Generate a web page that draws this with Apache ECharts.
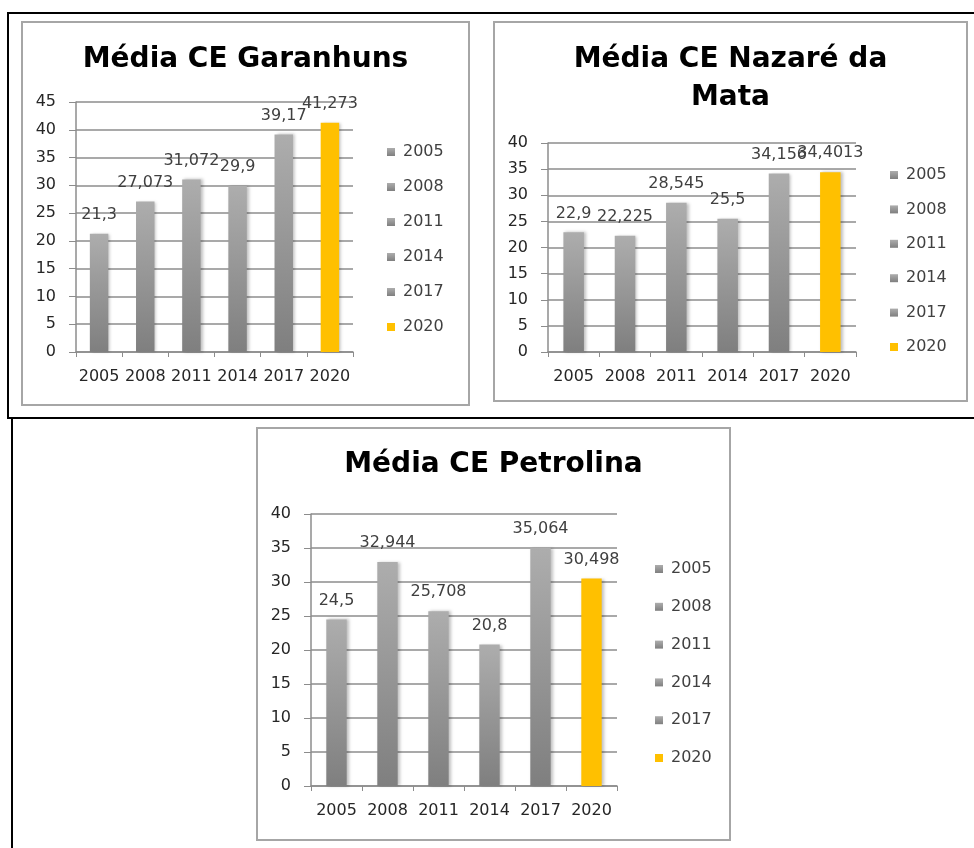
<!DOCTYPE html>
<html>
<head>
<meta charset="utf-8">
<script src="https://cdn.jsdelivr.net/npm/echarts@6/dist/echarts.min.js"></script>
<style>
  body { margin: 0; background: #fff; }
  .line { position: absolute; background: #000; }
  .box { position: absolute; border: 2px solid #a6a6a6; box-sizing: border-box; background: #fff; }
  .chart { width: 100%; height: 100%; }
</style>
</head>
<body>
<div class="line" style="left:7px;top:12px;width:967px;height:2px"></div>
<div class="line" style="left:7px;top:12px;width:2px;height:407px"></div>
<div class="line" style="left:7px;top:417px;width:967px;height:2px"></div>
<div class="line" style="left:11px;top:417px;width:2px;height:431px"></div>

<div class="box" style="left:21px;top:21px;width:449px;height:385px"><div id="c1" class="chart"></div></div>
<div class="box" style="left:493px;top:21px;width:475px;height:381px"><div id="c2" class="chart"></div></div>
<div class="box" style="left:256px;top:427px;width:475px;height:414px"><div id="c3" class="chart"></div></div>

<script>
// anos (categorias) e médias por cidade
var years = ['2005', '2008', '2011', '2014', '2017', '2020'];
var garanhuns = [21.3, 27.073, 31.072, 29.9, 39.17, 41.273];
var nazare = [22.9, 22.225, 28.545, 25.5, 34.156, 34.4013];
var petrolina = [24.5, 32.944, 25.708, 20.8, 35.064, 30.498];

var FONT = 'DejaVu Sans';
var grayBar = new echarts.graphic.LinearGradient(0, 0, 0, 1, [
    {offset: 0, color: '#adadad'},
    {offset: 1, color: '#7f7f7f'}
]);
var yellowBar = '#ffc000';

function buildOption(cfg) {
    var series = years.map(function (y, i) {
        var data = years.map(function (_, j) {
            return j === i ? cfg.values[i] : '-';
        });
        return {
            name: y,
            type: 'bar',
            stack: 'v',
            barWidth: '40%',
            data: data,
            itemStyle: {
                color: i === years.length - 1 ? yellowBar : grayBar,
                shadowColor: 'rgba(0,0,0,0.25)',
                shadowBlur: 3,
                shadowOffsetX: 2
            },
            label: {
                show: true,
                position: 'top',
                distance: 11,
                fontFamily: FONT,
                fontSize: 16,
                color: '#404040',
                formatter: function (p) {
                    return String(p.value).replace('.', ',');
                }
            }
        };
    });
    return {
        animation: false,
        title: {
            text: cfg.title,
            left: 'center',
            top: cfg.titleTop,
            padding: 0,
            textStyle: {fontFamily: FONT, fontWeight: 'bold', fontSize: 28, lineHeight: 38, color: '#000'}
        },
        legend: {
            orient: 'vertical',
            left: cfg.legendLeft,
            top: cfg.legendTop,
            padding: 0,
            itemGap: cfg.legendGap,
            itemWidth: 8,
            itemHeight: 8,
            icon: 'rect',
            selectedMode: false,
            textStyle: {fontFamily: FONT, fontSize: 16, lineHeight: 16, color: '#404040', padding: [0, 0, 0, 3]},
            data: years
        },
        grid: cfg.grid,
        xAxis: {
            type: 'category',
            data: years,
            axisLine: {lineStyle: {color: '#8c8c8c', width: 1.5}},
            axisTick: {show: true, length: 5, lineStyle: {color: '#8c8c8c'}},
            axisLabel: {interval: 0, margin: 17, fontFamily: FONT, fontSize: 16, color: '#262626'}
        },
        yAxis: {
            type: 'value',
            min: 0,
            max: cfg.yMax,
            interval: 5,
            axisLine: {show: true, lineStyle: {color: '#8c8c8c', width: 1.5}},
            axisTick: {show: true, length: 7, lineStyle: {color: '#8c8c8c'}},
            axisLabel: {margin: 20, fontFamily: FONT, fontSize: 16, color: '#262626'},
            splitLine: {lineStyle: {color: '#8c8c8c', width: 1.5}}
        },
        series: series
    };
}

var charts = [
    {id: 'c1', title: 'Média CE Garanhuns', values: garanhuns, yMax: 45, titleTop: 18,
        grid: {left: 53, top: 79, width: 277, height: 250},
        legendLeft: 364, legendTop: 121, legendGap: 19},
    {id: 'c2', title: 'Média CE Nazaré da\nMata', values: nazare, yMax: 40, titleTop: 18,
        grid: {left: 53, top: 120, width: 308, height: 209},
        legendLeft: 395, legendTop: 144, legendGap: 18.4},
    {id: 'c3', title: 'Média CE Petrolina', values: petrolina, yMax: 40, titleTop: 17,
        grid: {left: 53, top: 85, width: 306, height: 272},
        legendLeft: 397, legendTop: 132, legendGap: 21.8}
];

charts.forEach(function (cfg) {
    var chart = echarts.init(document.getElementById(cfg.id));
    chart.setOption(buildOption(cfg));
});
</script>
</body>
</html>
